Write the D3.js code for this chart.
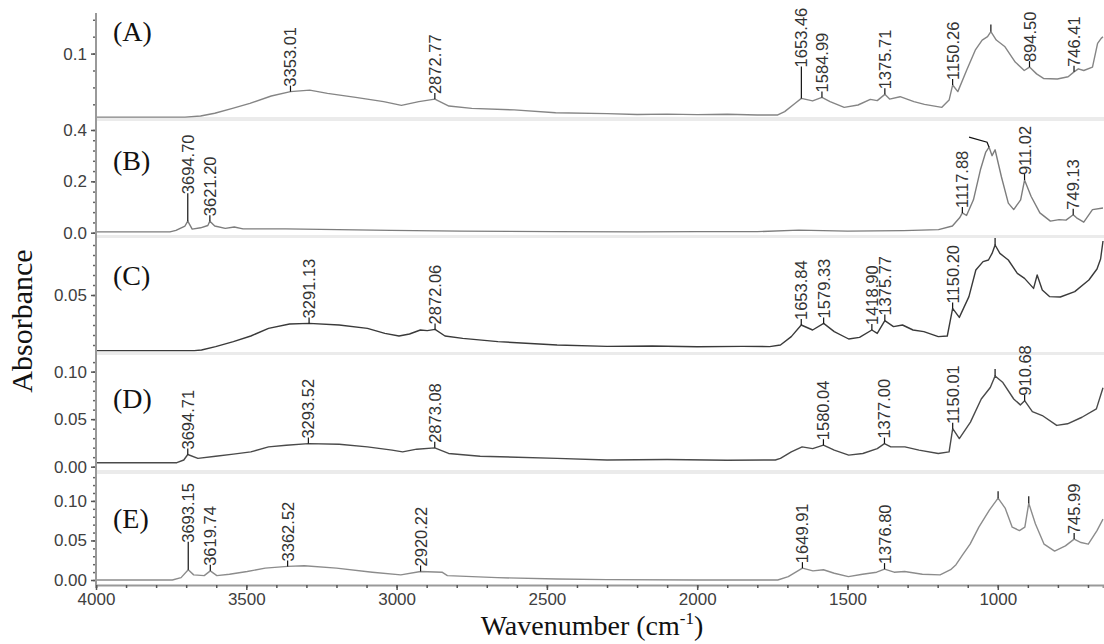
<!DOCTYPE html>
<html>
<head>
  <meta charset="UTF-8">
  <title>FTIR spectra</title>
  <script src="https://cdn.jsdelivr.net/npm/d3@7"></script>
  <style>
    body { margin: 0; background: #fff; }
    svg { display: block; }
  </style>
</head>
<body>
<div id="chart"></div>
<script>
// spectra, [wavenumber, absorbance]
const specA = [[4000,0.0624],[3704,0.0624],[3652,0.0631],[3605,0.0647],[3546,0.0676],[3488,0.0706],[3417,0.0749],[3353.01,0.0775],[3289,0.0784],[3230,0.0765],[3136,0.0741],[3043,0.0716],[2984,0.0694],[2926,0.0716],[2872.77,0.0731],[2826,0.069],[2750,0.0676],[2609,0.0667],[2471,0.065],[2300,0.0645],[2200,0.0640],[2100,0.0642],[2000,0.0639],[1900,0.0641],[1800,0.0637],[1732,0.0637],[1709,0.0657],[1674,0.0706],[1653.46,0.0735],[1616,0.072],[1584.99,0.0741],[1558,0.0716],[1511,0.0682],[1465,0.0696],[1424,0.0729],[1401,0.0722],[1375.71,0.0759],[1360,0.0731],[1325,0.0745],[1279,0.0716],[1244,0.070],[1186,0.0682],[1162,0.0725],[1150.26,0.0814],[1133,0.0775],[1104,0.090],[1075,0.102],[1052,0.108],[1034,0.110],[1023,0.113],[1005,0.108],[976,0.104],[942,0.095],[912,0.090],[894.50,0.092],[871,0.088],[848,0.0853],[802,0.085],[766,0.0863],[746.41,0.0892],[732,0.091],[714,0.090],[685,0.092],[668,0.106],[656,0.109],[650,0.110]];
const specB = [[4000,0.003],[3754,0.003],[3734,0.009],[3704,0.026],[3694.70,0.045],[3680,0.014],[3652,0.019],[3628,0.028],[3621.20,0.045],[3605,0.026],[3570,0.017],[3540,0.022],[3511,0.015],[3370,0.015],[3253,0.013],[3019,0.009],[2785,0.006],[2471,0.004],[2200,0.003],[2000,0.004],[1800,0.004],[1662,0.010],[1500,0.006],[1313,0.008],[1197,0.012],[1151,0.026],[1127,0.058],[1117.88,0.077],[1104,0.067],[1081,0.128],[1058,0.244],[1040,0.314],[1029,0.333],[1019,0.30],[1009,0.323],[988,0.218],[965,0.115],[947,0.09],[924,0.128],[911.02,0.205],[889,0.141],[860,0.077],[825,0.045],[796,0.051],[773,0.049],[749.13,0.070],[738,0.058],[714,0.041],[685,0.09],[650,0.096]];
const specC = [[4000,0.0222],[3673,0.0222],[3649,0.0225],[3602,0.0242],[3543,0.0267],[3485,0.0295],[3426,0.0333],[3356,0.0355],[3291.13,0.0358],[3191,0.035],[3097,0.0333],[3039,0.0308],[2992,0.0295],[2957,0.0305],[2921,0.0325],[2898,0.0322],[2872.06,0.0328],[2839,0.0295],[2780,0.0283],[2663,0.0267],[2466,0.025],[2300,0.0243],[2150,0.0245],[2000,0.0241],[1850,0.0243],[1759,0.0242],[1723,0.025],[1687,0.0292],[1653.84,0.035],[1616,0.0325],[1579.33,0.0358],[1544,0.0317],[1496,0.028],[1460,0.0288],[1418.90,0.0325],[1401,0.0308],[1375.77,0.0372],[1347,0.0342],[1317,0.035],[1282,0.0325],[1246,0.0317],[1198,0.0292],[1168,0.0295],[1150.20,0.0433],[1128,0.0388],[1096,0.0492],[1073,0.0625],[1049,0.0667],[1031,0.0675],[1019,0.0708],[1009,0.075],[993,0.0708],[965,0.0675],[935,0.0608],[911,0.0583],[881,0.0533],[869,0.060],[852,0.0525],[828,0.0492],[792,0.049],[744,0.0517],[697,0.0575],[670,0.063],[658,0.068],[650,0.077]];
const specD = [[4000,0.0042],[3731,0.0042],[3708,0.007],[3694.71,0.0128],[3661,0.0087],[3602,0.011],[3543,0.0132],[3485,0.0156],[3426,0.0208],[3367,0.0226],[3293.52,0.0243],[3191,0.0236],[3097,0.0208],[3015,0.0174],[2980,0.0156],[2933,0.0184],[2873.08,0.0198],[2827,0.0139],[2722,0.011],[2466,0.0087],[2300,0.007],[2100,0.0075],[1900,0.0068],[1740,0.007],[1723,0.0087],[1687,0.0156],[1651,0.0208],[1616,0.019],[1580.04,0.0226],[1544,0.0174],[1496,0.0122],[1449,0.0139],[1401,0.019],[1377.00,0.0243],[1356,0.0208],[1309,0.0208],[1262,0.0174],[1198,0.0139],[1162,0.0156],[1150.01,0.040],[1128,0.0295],[1091,0.0469],[1055,0.0712],[1025,0.0833],[1009,0.0955],[983,0.0885],[947,0.0712],[925,0.065],[910.68,0.0694],[885,0.058],[852,0.0538],[804,0.0434],[768,0.0451],[720,0.052],[672,0.0608],[650,0.083]];
const specE = [[4000,0.0],[3746,0.0],[3717,0.003],[3693.15,0.013],[3675,0.0065],[3640,0.0056],[3619.74,0.0116],[3598,0.0056],[3556,0.0073],[3497,0.0108],[3437,0.015],[3362.52,0.0172],[3307,0.0181],[3200,0.015],[3081,0.0099],[2986,0.0065],[2920.22,0.0108],[2849,0.0099],[2831,0.0056],[2665,0.003],[2465,0.0013],[2300,0.0005],[2000,0.0],[1732,0.0],[1697,0.0043],[1649.91,0.015],[1615,0.0116],[1580,0.013],[1544,0.0086],[1497,0.0043],[1450,0.0073],[1403,0.0099],[1376.80,0.0138],[1345,0.0099],[1310,0.0108],[1251,0.0073],[1192,0.0065],[1157,0.013],[1139,0.0194],[1116,0.0323],[1092,0.0453],[1063,0.0668],[1028,0.0884],[999,0.1034],[975,0.0905],[952,0.0668],[928,0.0625],[910,0.0668],[897,0.097],[875,0.0711],[846,0.0453],[811,0.0366],[775,0.0431],[745.99,0.0517],[723,0.0474],[699,0.0453],[670,0.0625],[650,0.077]];

// peak labels per spectrum
const peaksA = ['3353.01','2872.77','1653.46','1584.99','1375.71','1150.26','894.50','746.41'];
const peaksB = ['3694.70','3621.20','1117.88','911.02','749.13'];
const peaksC = ['3291.13','2872.06','1653.84','1579.33','1418.90','1375.77','1150.20'];
const peaksD = ['3694.71','3293.52','2873.08','1580.04','1377.00','1150.01','910.68'];
const peaksE = ['3693.15','3619.74','3362.52','2920.22','1649.91','1376.80','745.99'];
// marked peaks whose label falls off the plot
const marksA = [1023];
const marksC = [1009];
const marksD = [1009];
const marksE = [999, 897];

// axis ticks
const xTicks = [4000, 3500, 3000, 2500, 2000, 1500, 1000];
const yTicksA = ['0.1'];
const yTicksB = ['0.4', '0.2', '0.0'];
const yTicksC = ['0.05'];
const yTicksD = ['0.10', '0.05', '0.00'];
const yTicksE = ['0.10', '0.05', '0.00'];
const panelNames = ['(A)', '(B)', '(C)', '(D)', '(E)'];

const W = 1104, H = 644;
const left = 96, right = 1104, axisY = 585;
const sans = 'Liberation Sans, Arial, sans-serif';
const serif = 'Liberation Serif, Times New Roman, serif';

const svg = d3.select('#chart').append('svg').attr('width', W).attr('height', H);

const x = d3.scaleLinear().domain([4000, 650]).range([left, 1103]);

// panel frames: pixel extent, y domain, minor step, look
const panels = [
  {spec: specA, peaks: peaksA, marks: marksA, ticks: yTicksA, name: panelNames[0], top: 13, bottom: 117, dom: [0.0625, 0.124], minor: 0.01, color: '#858585', nameY: 41},
  {spec: specB, peaks: peaksB, marks: [], ticks: yTicksB, name: panelNames[1], top: 121, bottom: 235, dom: [-0.009, 0.435], minor: 0.04, color: '#7d7d7d', nameY: 170},
  {spec: specC, peaks: peaksC, marks: marksC, ticks: yTicksC, name: panelNames[2], top: 238, bottom: 352, dom: [0.0215, 0.0785], minor: 0.005, color: '#3a3a3a', nameY: 285},
  {spec: specD, peaks: peaksD, marks: marksD, ticks: yTicksD, name: panelNames[3], top: 355, bottom: 470, dom: [-0.0035, 0.1175], minor: 0.01, color: '#4a4a4a', nameY: 408},
  {spec: specE, peaks: peaksE, marks: marksE, ticks: yTicksE, name: panelNames[4], top: 474, bottom: 585, dom: [-0.0063, 0.134], minor: 0.01, color: '#8c8c8c', nameY: 528}
];

// labels pushed further up to clear their neighbours
const lift = {'1653.46': 26, '3694.70': 22, '3693.15': 22};

function valueAt(spec, w)
{
  for (let i = 0; i < spec.length - 1; i++)
  {
    const a = spec[i], b = spec[i + 1];
    if (w <= a[0] && w >= b[0])
    {
      const t = (a[0] - w) / (a[0] - b[0]);
      return a[1] + t * (b[1] - a[1]);
    }
  }
  return spec[spec.length - 1][1];
}

// separators between panels
panels.slice(0, -1).forEach((p, i) =>
{
  svg.append('rect')
    .attr('x', left + 1).attr('y', p.bottom)
    .attr('width', right - left).attr('height', panels[i + 1].top - p.bottom)
    .attr('fill', '#ebebeb');
});

panels.forEach((p, i) =>
{
  const y = d3.scaleLinear().domain(p.dom).range([p.bottom, p.top]);

  // minor ticks
  const minorVals = d3.range(Math.ceil(p.dom[0] / p.minor) * p.minor, p.dom[1], p.minor);
  svg.append('g')
    .attr('transform', `translate(${left},0)`)
    .call(d3.axisLeft(y).tickValues(minorVals).tickSize(3).tickFormat(''))
    .call(g => g.select('.domain').remove())
    .call(g => g.selectAll('line').attr('stroke', '#666').attr('stroke-width', 1.5));

  // labelled ticks
  svg.append('g')
    .attr('transform', `translate(${left},0)`)
    .call(d3.axisLeft(y).tickValues(p.ticks.map(Number)).tickSize(5).tickPadding(4)
      .tickFormat((d, k) => p.ticks[k]))
    .call(g => g.select('.domain').remove())
    .call(g => g.selectAll('line').attr('stroke', '#555').attr('stroke-width', 1.5))
    .call(g => g.selectAll('text').attr('font-family', sans)
      .attr('font-size', 17).attr('fill', '#404040'));

  const clipId = 'clip' + i;
  svg.append('clipPath').attr('id', clipId).append('rect')
    .attr('x', left).attr('y', p.top - 2).attr('width', right - left).attr('height', p.bottom - p.top + 3);

  const line = d3.line().x(d => x(d[0])).y(d => y(d[1]));
  svg.append('path')
    .datum(p.spec)
    .attr('clip-path', `url(#${clipId})`)
    .attr('d', line)
    .attr('fill', 'none')
    .attr('stroke', p.color)
    .attr('stroke-width', 1.4)
    .attr('stroke-linejoin', 'round');

  // peak markers and labels
  p.peaks.forEach(label =>
  {
    const w = +label;
    const px = x(w), py = y(valueAt(p.spec, w));
    const top = py - 6 - (lift[label] || 0);
    svg.append('line')
      .attr('x1', px).attr('x2', px).attr('y1', py).attr('y2', top)
      .attr('stroke', '#111').attr('stroke-width', 1.2);
    svg.append('text')
      .attr('transform', `translate(${px + 6},${top + 1}) rotate(-90)`)
      .attr('font-family', sans)
      .attr('font-size', 16.5)
      .attr('fill', '#333')
      .text(label);
  });

  p.marks.forEach(w =>
  {
    const px = x(w), py = y(valueAt(p.spec, w));
    svg.append('line')
      .attr('x1', px).attr('x2', px).attr('y1', py).attr('y2', py - 7)
      .attr('stroke', '#111').attr('stroke-width', 1.2);
  });

  svg.append('text')
    .attr('x', 113).attr('y', p.nameY)
    .attr('font-family', serif)
    .attr('font-size', 28)
    .attr('fill', '#111')
    .text(p.name);
});

// leader without text on the main band of (B)
{
  const yB = d3.scaleLinear().domain(panels[1].dom).range([panels[1].bottom, panels[1].top]);
  const px = x(1029), py = yB(valueAt(specB, 1029));
  svg.append('path')
    .attr('d', `M${px},${py}L${px - 2},${py - 5}L${px - 20},${py - 10}`)
    .attr('fill', 'none').attr('stroke', '#111').attr('stroke-width', 1.2);
}

// y axis line
svg.append('line')
  .attr('x1', left).attr('x2', left).attr('y1', 13).attr('y2', axisY)
  .attr('stroke', '#999').attr('stroke-width', 2);

// x axis
svg.append('g')
  .attr('transform', `translate(0,${axisY})`)
  .call(d3.axisBottom(x).tickValues(d3.range(4000, 650, -100)).tickSize(3).tickFormat(''))
  .call(g => g.select('.domain').attr('stroke', '#999').attr('stroke-width', 2))
  .call(g => g.selectAll('line').attr('stroke', '#555').attr('stroke-width', 1.5));

svg.append('g')
  .attr('transform', `translate(0,${axisY})`)
  .call(d3.axisBottom(x).tickValues(xTicks).tickSize(5).tickPadding(3).tickFormat(d3.format('d')))
  .call(g => g.select('.domain').remove())
  .call(g => g.selectAll('line').attr('stroke', '#555').attr('stroke-width', 1.5))
  .call(g => g.selectAll('text').attr('font-family', sans)
    .attr('font-size', 17).attr('fill', '#404040'));

// axis titles
svg.append('text')
  .attr('transform', 'translate(32,321) rotate(-90)')
  .attr('text-anchor', 'middle')
  .attr('font-family', serif)
  .attr('font-size', 30)
  .attr('fill', '#111')
  .text('Absorbance');

const xt = svg.append('text')
  .attr('x', 592).attr('y', 635)
  .attr('text-anchor', 'middle')
  .attr('font-family', serif)
  .attr('font-size', 28)
  .attr('fill', '#111');
xt.append('tspan').text('Wavenumber (cm');
xt.append('tspan').attr('font-size', 17).attr('dy', -11).text('-1');
xt.append('tspan').attr('dy', 11).text(')');
</script>
</body>
</html>
